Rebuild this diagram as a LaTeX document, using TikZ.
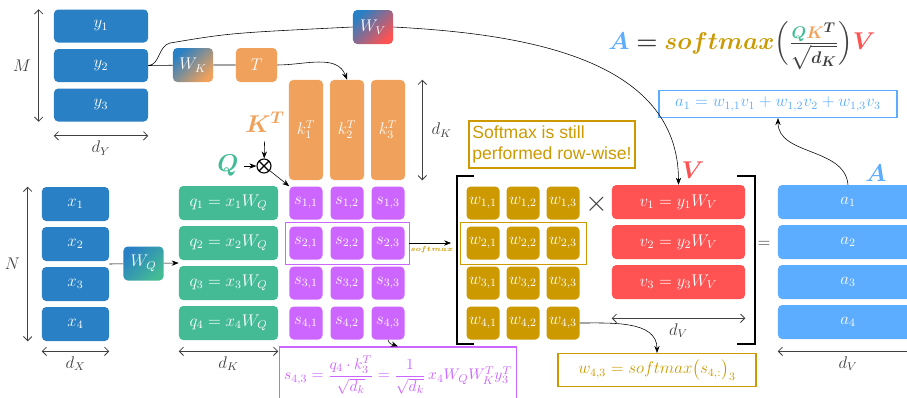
\documentclass[tikz,border=0pt]{standalone}
\usepackage{amsmath}
\usepackage{bm}
\usepackage{fontspec}
\newfontfamily\notefont{Liberation Sans}
\usetikzlibrary{arrows.meta,fit,calc}
\definecolor{cblue}{RGB}{41,128,196}
\definecolor{corange}{RGB}{240,161,91}
\definecolor{cgreen}{RGB}{68,187,149}
\definecolor{cpurple}{RGB}{204,102,255}
\definecolor{cgold}{RGB}{204,153,0}
\definecolor{cred}{RGB}{255,82,82}
\definecolor{clblue}{RGB}{92,172,255}
\definecolor{cdark}{RGB}{64,64,64}
\begin{document}
\begin{tikzpicture}[x=0.025cm, y=0.025cm,
      box/.style={rounded corners=3pt, inner sep=0pt, text=white, font=\large, minimum height=0.85cm},
      ybox/.style={box, fill=cblue, minimum width=2.35cm, minimum height=0.825cm},
      xbox/.style={box, fill=cblue, minimum width=1.675cm},
      qbox/.style={box, fill=cgreen, minimum width=2.475cm},
      kbox/.style={box, fill=corange, minimum width=0.85cm, minimum height=2.5cm},
      sbox/.style={box, fill=cpurple, minimum width=0.825cm, minimum height=0.825cm},
      wbox/.style={box, fill=cgold, minimum width=0.825cm, minimum height=0.825cm},
      vbox/.style={box, fill=cred, minimum width=3.325cm},
      abox/.style={box, fill=clblue, minimum width=3.5cm},
      wmat/.style={box, minimum width=1cm, left color=cblue, right color=#1, shading angle=45},
      dim/.style={{Straight Barb[length=3pt]}-{Straight Barb[length=3pt]}, cdark, semithick},
      dlbl/.style={text=cdark, font=\large},
      conn/.style={-{Stealth[length=5pt]}},
      bigl/.style={font=\LARGE},
      bracket/.style={line width=2pt},
      frm/.style={draw, thick, font=\large, inner sep=3pt},
      otimes/.style={circle, draw, thick, minimum size=0.35cm, inner sep=0pt,
        path picture={\draw (path picture bounding box.north west) -- (path picture bounding box.south east)
          (path picture bounding box.north east) -- (path picture bounding box.south west);}}
    ]
    \useasboundingbox (0,0) rectangle (907,-397);
    \foreach \i/\yy in {1/26,2/65.5,3/105} {
      \node[ybox] (y\i) at (101,-\yy) {$y_{\i}$};
    }
    \node[wmat=corange] (wk) at (193,-65) {$W_K$};
    \node[box, fill=corange, minimum width=1.025cm] (tr) at (256.5,-65) {$T$};
    \node[wmat=cred] (wv) at (373,-27) {$W_V$};
    \node[wmat=cgreen] (wq) at (143.5,-263.5) {$W_Q$};
    \foreach \j/\xx in {1/306,2/347,3/388} {
      \node[kbox] (k\j) at (\xx,-130) {$k_{\j}^T$};
    }
    \foreach \i in {1,...,4} {
      \node[xbox] (x\i) at (75.5,{-164-40*\i}) {$x_{\i}$};
      \node[qbox] (q\i) at (228.5,{-163-40*\i}) {$q_{\i} = x_{\i}W_Q$};
      \foreach \j/\xx/\wx in {1/306/483,2/347/523,3/388/563} {
        \node[sbox] (s\i\j) at (\xx,{-163-40*\i}) {$s_{\i,\j}$};
        \node[wbox] (w\i\j) at (\wx,{-163-40*\i}) {$w_{\i,\j}$};
      }
      \node[abox] (a\i) at (848,{-162-40*\i}) {$a_{\i}$};
    }
    \foreach \i in {1,2,3} {
      \node[vbox] (v\i) at (678.5,{-162-40*\i}) {$v_{\i} = y_{\i}W_V$};
    }
    \node[bigl, text=corange] (ktl) at (265,-122) {$\bm{K^T}$};
    \node[bigl, text=cgreen] (ql) at (228,-166) {$\bm{Q}$};
    \node[bigl, text=cred] (vl) at (693,-170) {$\bm{V}$};
    \node[bigl, text=clblue] (al) at (876,-173) {$\bm{A}$};
    \node[otimes] (ot) at (264,-166) {};
    \node[font=\LARGE] (eqn) at (742,-46) {$\textcolor{clblue}{\bm{A}} \mathrel{\textcolor{cdark}{\bm{=}}} \textcolor{cgold}{\bm{softmax}} \textcolor{cdark}{\Bigl(\frac{\textcolor{cgreen}{\bm{Q}}\textcolor{corange}{\bm{K}}^{\bm{T}}}{\sqrt{\bm{d_K}}}\Bigr)} \textcolor{cred}{\bm{V}}$};
    \node[frm, draw=clblue, text=clblue, minimum width=5.95cm, minimum height=0.675cm] (afrm) at (778,-104) {$a_1 = w_{1,1}v_1 + w_{1,2}v_2 + w_{1,3}v_3$};
    \node[draw=cgold, thick, text=cgold, align=left, font=\notefont\fontsize{12.5}{15}\selectfont, minimum width=4.15cm, minimum height=1.175cm, inner sep=2pt] (note) at (552,-144.5) {Softmax is still\\performed row-wise!};
    \node[frm, draw=cpurple, text=cpurple, font=\fontsize{11}{13}\selectfont, minimum width=5.7cm, minimum height=1.4cm] (sfrm) at (398,-375) {$s_{4,3} = \dfrac{q_4 \cdot k_3^T}{\sqrt{d_k}} = \dfrac{1}{\sqrt{d_k}}\, x_4 W_Q W_K^T y_3^T$};
    \node[frm, draw=cgold, text=cgold, minimum width=4.95cm, minimum height=0.825cm] (wfrm) at (657,-370) {$w_{4,3} = softmax\big(s_{4,:}\big)_3$};
    \node[fit=(s21)(s23), draw=cpurple, inner sep=0.1cm] (srow) {};
    \node[fit=(w21)(w23), draw=cgold, inner xsep=0.15cm, inner ysep=0.1cm] (wrow) {};
    \node[font=\huge, text=cdark] (times) at (597,-204) {$\times$};
    \node[font=\large, text=cdark] (eq) at (764,-244) {$=$};
    \draw[bracket] (474,-176) -| (457,-344) -- (474,-344);
    \draw[bracket] (737,-176) -| (755,-344) -- (737,-344);
    \coordinate (yup) at (170,-43);
    \coordinate (xmid) at ($(x2.south east)!0.5!(x3.north east)$);
    \coordinate (qmid) at ($(q2.south west)!0.5!(q3.north west)$);
    \draw (y2.east) -- (wk) -- (tr);
    \draw[conn] (tr.east) to[out=0, in=110] (k2.north);
    \draw (y2.east) .. controls (160,-65) and (158,-46) .. (yup) .. controls (230,-33) .. (wv.west);
    \draw[conn] (wv.east) to[out=-3, in=90] (v1.north);
    \draw (xmid) -- (wq);
    \draw[conn] (wq) -- (qmid);
    \draw[conn, shorten <=3pt] (ktl) -- (ot);
    \draw[conn] (ql) -- (ot);
    \draw[conn] (ot) -- (s11.north west);
    \draw[conn, shorten >=0.22cm] (srow.east) -- (wrow.west) node[pos=0.45, below=-1pt, text=cgold, font=\tiny] {$\bm{softmax}$};
    \draw[conn] (s43.south) to[out=-80, in=160] (sfrm.north);
    \draw[conn] (w43.east) to[out=0, in=90] (wfrm.north);
    \draw[conn] (a1.north) to[out=95, in=-90] (afrm.south);
    \draw[dim] ([xshift=-0.375cm]y1.north west) -- ([xshift=-0.375cm]y3.south west) node[dlbl, midway, left=2pt] {$M$};
    \draw[dim] ([yshift=-0.35cm]y3.south west) -- ([yshift=-0.35cm]y3.south east) node[dlbl, midway, below] {$d_Y$};
    \draw[dim] ([xshift=-0.35cm]x1.north west) -- ([xshift=-0.35cm]x4.south west) node[dlbl, midway, left=2pt] {$N$};
    \draw[dim] ([yshift=-0.25cm]x4.south west) -- ([yshift=-0.25cm]x4.south east) node[dlbl, midway, below] {$d_X$};
    \draw[dim] ([yshift=-0.275cm]q4.south west) -- ([yshift=-0.275cm]q4.south east) node[dlbl, midway, below] {$d_K$};
    \draw[dim] ([xshift=0.425cm]k3.north east) -- ([xshift=0.425cm]k3.south east) node[dlbl, midway, right=3pt] {$d_K$};
    \draw[dim] ([yshift=-0.475cm]v3.south west) -- ([yshift=-0.475cm]v3.south east) node[dlbl, midway, below] {$d_V$};
    \draw[dim] ([yshift=-0.3cm]a4.south west) -- ([yshift=-0.3cm]a4.south east) node[dlbl, midway, below] {$d_V$};
  \end{tikzpicture}
\end{document}
